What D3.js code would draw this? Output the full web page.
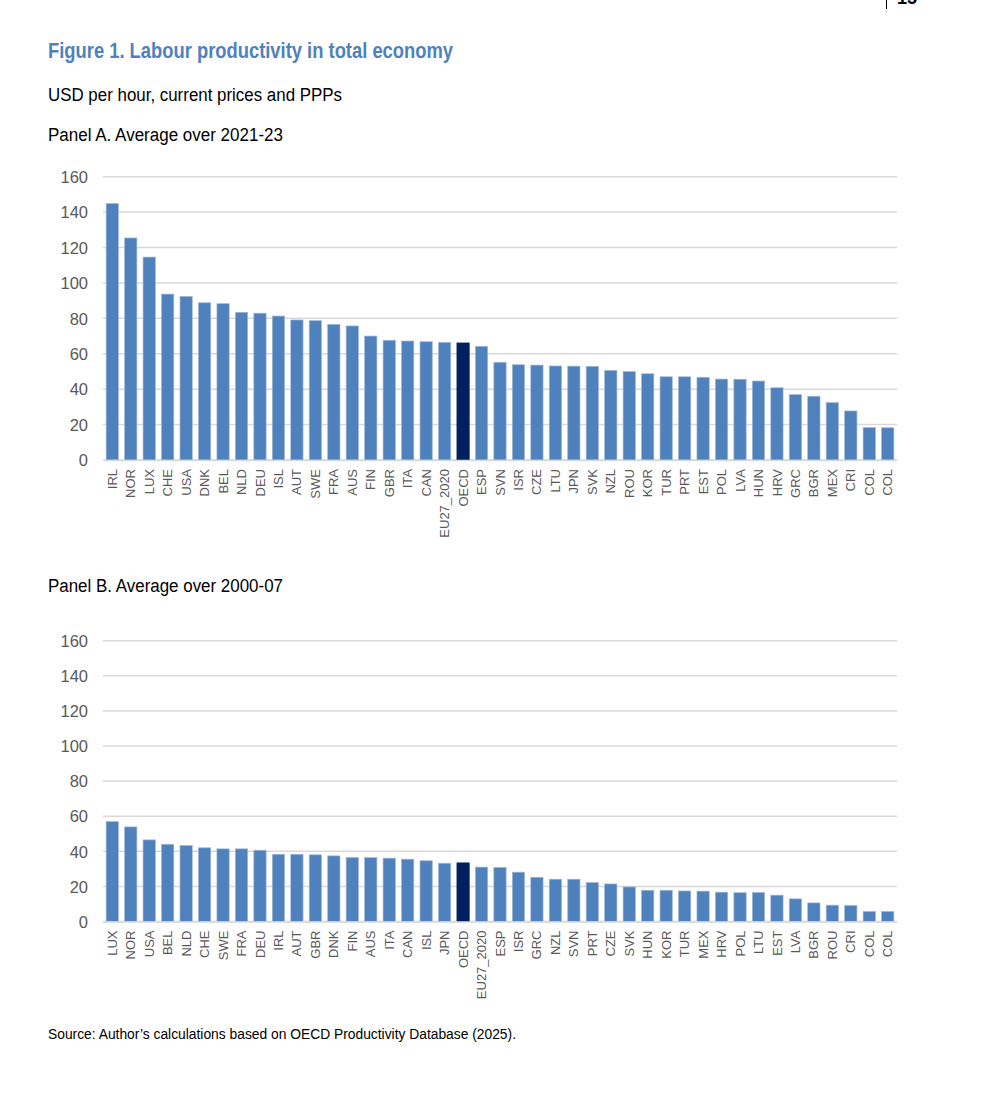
<!DOCTYPE html>
<html>
<head>
<meta charset="utf-8">
<script src="https://cdn.jsdelivr.net/npm/d3@7"></script>
<style>
  body { margin: 0; background: #fff; }
  svg { display: block; }
</style>
</head>
<body>
<svg id="chart" width="992" height="1102"></svg>
<script>
// Panel A: average over 2021-23
const catsA = ['IRL','NOR','LUX','CHE','USA','DNK','BEL','NLD','DEU','ISL','AUT','SWE','FRA','AUS','FIN','GBR','ITA','CAN','EU27_2020','OECD','ESP','SVN','ISR','CZE','LTU','JPN','SVK','NZL','ROU','KOR','TUR','PRT','EST','POL','LVA','HUN','HRV','GRC','BGR','MEX','CRI','COL','COL'];
const valsA = [144.8,125.4,114.6,93.7,92.4,88.8,88.3,83.4,82.9,81.3,79.1,78.7,76.6,75.7,70.0,67.6,67.2,66.8,66.4,66.1,64.2,55.2,53.8,53.6,53.1,53.0,52.9,50.6,49.9,48.7,47.0,47.0,46.7,45.7,45.6,44.6,40.8,36.9,36.0,32.4,27.7,18.3,18.2];

// Panel B: average over 2000-07
const catsB = ['LUX','NOR','USA','BEL','NLD','CHE','SWE','FRA','DEU','IRL','AUT','GBR','DNK','FIN','AUS','ITA','CAN','ISL','JPN','OECD','EU27_2020','ESP','ISR','GRC','NZL','SVN','PRT','CZE','SVK','HUN','KOR','TUR','MEX','HRV','POL','LTU','EST','LVA','BGR','ROU','CRI','COL','COL'];
const valsB = [56.9,53.9,46.5,44.0,43.3,42.0,41.4,41.4,40.6,38.3,38.3,38.0,37.4,36.4,36.4,36.1,35.5,34.6,33.2,33.4,31.0,30.8,28.1,25.2,24.1,24.1,22.2,21.4,19.7,17.8,17.8,17.4,17.3,16.7,16.4,16.5,15.0,12.9,10.6,9.3,9.1,5.7,5.7];

const yTicks = [0,20,40,60,80,100,120,140,160];

const blue = '#4f81bd';
const navy = '#002060';
const grid = '#d9d9d9';
const regular = '"Liberation Sans", Arial, sans-serif';

const svg = d3.select('#chart');

// page number (cut off at the top edge as on the page)
svg.append('line').attr('x1', 886.5).attr('x2', 886.5).attr('y1', 0).attr('y2', 9)
  .attr('stroke', '#000').attr('stroke-width', 1);
svg.append('text').attr('x', 897).attr('y', 4)
  .style('font-family', regular).style('font-weight', 'bold').style('font-size', '18px')
  .text('15');

// narrow-looking texts: squeeze Liberation Sans to the widths on the page
function label(x, y, size, width, txt, bold, color) {
  svg.append('text').attr('x', x).attr('y', y)
    .attr('textLength', width).attr('lengthAdjust', 'spacingAndGlyphs')
    .style('font-family', regular).style('font-size', size + 'px')
    .style('font-weight', bold ? 'bold' : 'normal')
    .style('fill', color || '#000')
    .text(txt);
}

label(48, 58.3, 22, 405, 'Figure 1. Labour productivity in total economy', true, blue);
label(48, 100.7, 18, 294, 'USD per hour, current prices and PPPs');
label(48, 140.7, 18, 235, 'Panel A. Average over 2021-23');
label(48, 591.7, 18, 235, 'Panel B. Average over 2000-07');
label(48, 1039, 15.5, 468, 'Source: Author\u2019s calculations based on OECD Productivity Database (2025).');

function drawPanel(cats, vals, yBottom, yTop) {
  const left = 103, right = 897;
  const keys = cats.map((c, i) => i);

  const x = d3.scaleBand()
    .domain(keys)
    .range([left, right])
    .paddingInner(0.335)
    .paddingOuter(0.17);

  const y = d3.scaleLinear()
    .domain([0, 160])
    .range([yBottom, yTop]);

  const g = svg.append('g');

  // gridlines
  g.append('g')
    .selectAll('line')
    .data(yTicks)
    .enter().append('line')
    .attr('x1', left).attr('x2', right)
    .attr('y1', d => y(d)).attr('y2', d => y(d))
    .attr('stroke', grid).attr('stroke-width', 1.5);

  // y axis labels
  const yAxis = d3.axisLeft(y).tickValues(yTicks).tickSize(0).tickPadding(0);
  const ya = g.append('g').attr('transform', `translate(88,0)`).call(yAxis);
  ya.select('.domain').remove();
  ya.selectAll('text')
    .style('font-family', regular).style('font-size', '16.5px').style('fill', '#595959')
    .attr('dy', '0.35em');

  // bars
  g.append('g')
    .selectAll('rect')
    .data(vals)
    .enter().append('rect')
    .attr('x', (d, i) => x(i))
    .attr('y', d => y(d))
    .attr('width', x.bandwidth())
    .attr('height', d => y(0) - y(d))
    .attr('fill', (d, i) => cats[i] === 'OECD' ? navy : blue)
    .attr('stroke', (d, i) => cats[i] === 'OECD' ? navy : '#9fb8dc')
    .attr('stroke-width', 0.7);

  // x axis
  const xAxis = d3.axisBottom(x).tickSize(0).tickPadding(0).tickFormat(i => cats[i]);
  const xa = g.append('g').attr('transform', `translate(0,${yBottom})`).call(xAxis);
  xa.select('.domain').attr('stroke', grid).attr('stroke-width', 1.5)
    .attr('d', `M${left},0.5H${right}`);
  xa.selectAll('text')
    .style('font-family', regular).style('font-size', '13px').style('fill', '#595959')
    .attr('transform', 'rotate(-90)')
    .attr('x', -9).attr('y', 0).attr('dy', '0.35em')
    .style('text-anchor', 'end');
}

drawPanel(catsA, valsA, 460, 176.7);
drawPanel(catsB, valsB, 921.5, 640.7);
</script>
</body>
</html>
